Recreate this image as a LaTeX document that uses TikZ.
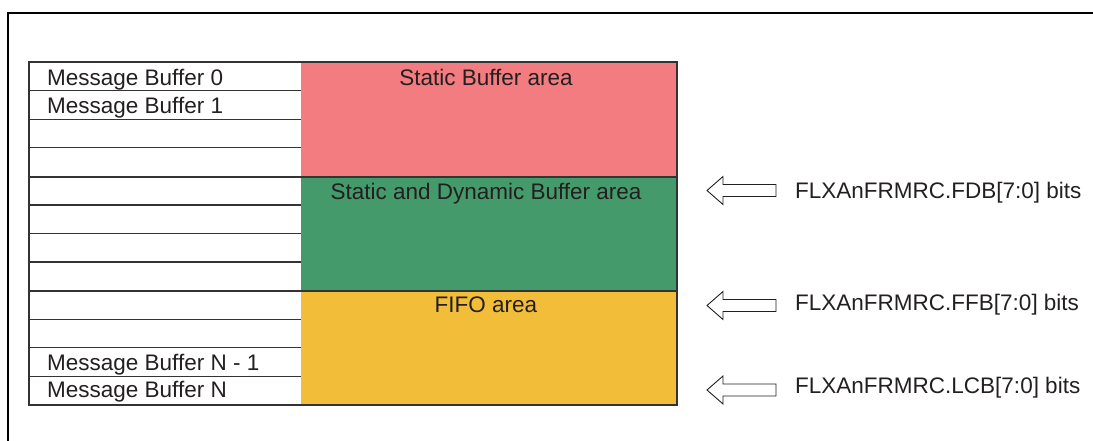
\documentclass[tikz,border=0pt]{standalone}
\usepackage{fontspec}
\setmainfont{Liberation Sans}
\definecolor{pinkc}{HTML}{F37C80}
\definecolor{greenc}{HTML}{449A6B}
\definecolor{yellowc}{HTML}{F2BE3A}
\definecolor{inkc}{HTML}{231F20}
\definecolor{linec}{HTML}{333333}
\begin{document}
\begin{tikzpicture}[x=1pt,y=-1pt,
  txt/.style={inner sep=0pt,text=inkc,font=\fontsize{22.5}{27}\selectfont},
  rowline/.style={draw=linec,line width=1.3pt},
  grpline/.style={draw=linec,line width=2.5pt},
  hollowarrow/.style={draw=inkc,line width=0.9pt,fill=white,line join=miter}]
\useasboundingbox (0,0) rectangle (1093,441);
% outer frame
\draw[line width=2.3pt] (8,450) -- (8,13) -- (1100,13);
% areas
\fill[pinkc] (301,62) rectangle (677,177);
\fill[greenc] (301,177) rectangle (677,291);
\fill[yellowc] (301,291) rectangle (677,405);
% row lines
\foreach \i in {1,2,3,5,6,7,9,10,11}{
  \draw[rowline] (29,{62+28.58*\i}) -- (301,{62+28.58*\i});
}
\draw[grpline] (29,177) -- (677,177);
\draw[grpline] (29,291) -- (677,291);
\draw[draw=linec,line width=2.7pt] (29,62) rectangle (677,405);
% row labels
\node[txt,anchor=base west] (mb0) at (47,86) {Message Buffer 0};
\node[txt,anchor=base west] (mb1) at (47,113.3) {Message Buffer 1};
\node[txt,anchor=base west] (mbn1) at (47,370.7) {Message Buffer N - 1};
\node[txt,anchor=base west] (mbn) at (47,397.3) {Message Buffer N};
% area labels
\node[txt,anchor=base] (sba) at (486,86) {Static Buffer area};
\node[txt,anchor=base] (sdba) at (486,199.5) {Static and Dynamic Buffer area};
\node[txt,anchor=base] (fifo) at (486,312.5) {FIFO area};
% pointer arrows
\foreach \n/\yy in {a1/190.5, a2/305.5, a3/390}{
  \coordinate (\n) at (707,\yy);
  \draw[hollowarrow] (\n) -- ++(16,-14) -- ++(0,8) -- ++(53,0) -- ++(0,12) -- ++(-53,0) -- ++(0,8) -- cycle;
}
\node[txt,anchor=base west] (fdb) at (795,199) {FLXAnFRMRC.FDB[7:0] bits};
\node[txt,anchor=base west] (ffb) at (795,310.7) {FLXAnFRMRC.FFB[7:0] bits};
\node[txt,anchor=base west] (lcb) at (795,393.5) {FLXAnFRMRC.LCB[7:0] bits};
\end{tikzpicture}
\end{document}
